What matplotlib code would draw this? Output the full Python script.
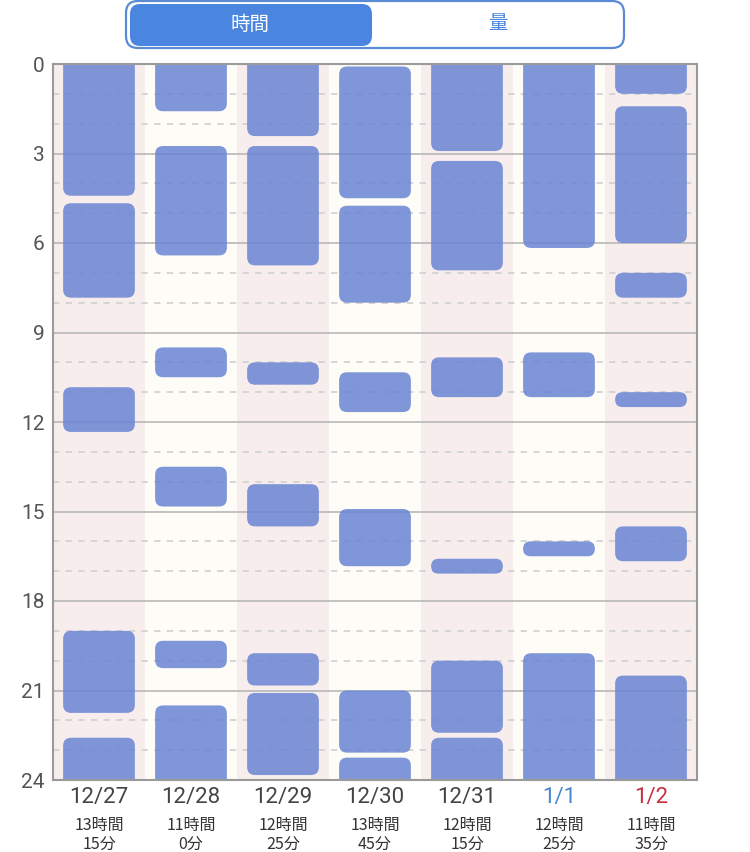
import matplotlib
matplotlib.use("Agg")
import matplotlib.pyplot as plt
from matplotlib.patches import FancyBboxPatch

# days shown in the chart and the sleep blocks of each day (start, end)
dates = ["12/27", "12/28", "12/29", "12/30", "12/31", "1/1", "1/2"]

sleep_1227 = [("0:00", "4:25"), ("4:40", "7:50"), ("10:50", "12:20"), ("19:00", "21:45"), ("22:35", "24:00")]
sleep_1228 = [("0:00", "1:35"), ("2:45", "6:25"), ("9:30", "10:30"), ("13:30", "14:50"), ("19:20", "20:15"), ("21:30", "24:00")]
sleep_1229 = [("0:00", "2:25"), ("2:45", "6:45"), ("10:00", "10:45"), ("14:05", "15:30"), ("19:45", "20:50"), ("21:05", "23:50")]
sleep_1230 = [("0:05", "4:30"), ("4:45", "8:00"), ("10:20", "11:40"), ("14:55", "16:50"), ("21:00", "23:05"), ("23:15", "24:00")]
sleep_1231 = [("0:00", "2:55"), ("3:15", "6:55"), ("9:50", "11:10"), ("16:35", "17:05"), ("20:00", "22:25"), ("22:35", "24:00")]
sleep_0101 = [("0:00", "6:10"), ("9:40", "11:10"), ("16:00", "16:30"), ("19:45", "24:00")]
sleep_0102 = [("0:00", "1:00"), ("1:25", "6:00"), ("7:00", "7:50"), ("11:00", "11:30"), ("15:30", "16:40"), ("20:30", "24:00")]

days = [sleep_1227, sleep_1228, sleep_1229, sleep_1230, sleep_1231, sleep_0101, sleep_0102]
date_colors = ["#444444"] * 5 + ["#4a86d0", "#c8303e"]

y_ticks = [0, 3, 6, 9, 12, 15, 18, 21, 24]


def to_hours(s):
    h, m = s.split(":")
    return int(h) + int(m) / 60


W, H = 750, 852
fig = plt.figure(figsize=(W / 100, H / 100), dpi=100)

# pixel overlay for the toggle at the top
over = fig.add_axes([0, 0, 1, 1])
over.set_xlim(0, W)
over.set_ylim(H, 0)
over.axis("off")

over.add_patch(FancyBboxPatch((126, 1), 498, 47, boxstyle="round,pad=0,rounding_size=12",
                              fc="white", ec="#5b8bd4", lw=1.6))
over.add_patch(FancyBboxPatch((130, 4), 242, 42, boxstyle="round,pad=0,rounding_size=10",
                              fc="#4a86e0", ec="none"))
cjk = ["Noto Sans CJK JP", "DejaVu Sans"]
over.text(250, 24, "時間", ha="center", va="center", fontsize=14, color="white", family=cjk)
over.text(498, 24, "量", ha="center", va="center", fontsize=14, color="#4a86e0", family=cjk)

# main chart
ax = fig.add_axes([53 / W, 1 - 780 / H, 644 / W, 716 / H])
ax.set_xlim(-0.5, len(dates) - 0.5)
ax.set_ylim(24, 0)

for i in range(len(dates)):
    ax.axvspan(i - 0.5, i + 0.5, color="#f7eded" if i % 2 == 0 else "#fefcf6", zorder=0, lw=0)

for h in range(1, 24):
    if h % 3 == 0:
        ax.axhline(h, color="#bdbdbd", lw=1.3, zorder=1)
    else:
        ax.axhline(h, color="#d3d3d3", lw=1.3, ls=(0, (3.5, 3.5)), zorder=1)

px_x = 644 / len(dates)
px_y = 716 / 24
aspect = px_x / px_y
bar_w = 0.78
radius = 8 / px_x

for i, blocks in enumerate(days):
    for s, e in blocks:
        y0, y1 = to_hours(s), to_hours(e)
        if y0 == 0:
            y0 = -1
        if y1 == 24:
            y1 = 25
        r = min(radius, (y1 - y0) / aspect / 2)
        ax.add_patch(FancyBboxPatch((i - bar_w / 2, y0), bar_w, y1 - y0,
                                    boxstyle=f"round,pad=0,rounding_size={r}",
                                    mutation_aspect=aspect,
                                    fc="#6a86d4", ec="none", alpha=0.86, zorder=2))

for sp in ax.spines.values():
    sp.set_color("#9a9a9a")
    sp.set_linewidth(1.5)
    sp.set_zorder(5)

ax.set_yticks(y_ticks)
ax.set_yticklabels([str(t) for t in y_ticks], fontsize=15, color="#555555", family="Roboto")
ax.tick_params(axis="y", length=0, pad=6)
ax.set_xticks([])

for i, (d, blocks) in enumerate(zip(dates, days)):
    total = round(sum((to_hours(e) - to_hours(s)) * 60 for s, e in blocks))
    xf = (53 + px_x * (i + 0.5)) / W
    fig.text(xf, 1 - 797 / H, d, ha="center", va="center", fontsize=16,
             color=date_colors[i], family="Roboto")
    fig.text(xf, 1 - 825 / H, f"{total // 60}時間", ha="center", va="center",
             fontsize=11.5, color="#333333", family=cjk)
    fig.text(xf, 1 - 845 / H, f"{total % 60}分", ha="center", va="center",
             fontsize=11.5, color="#333333", family=cjk)

fig.savefig("out.png", dpi=100)
